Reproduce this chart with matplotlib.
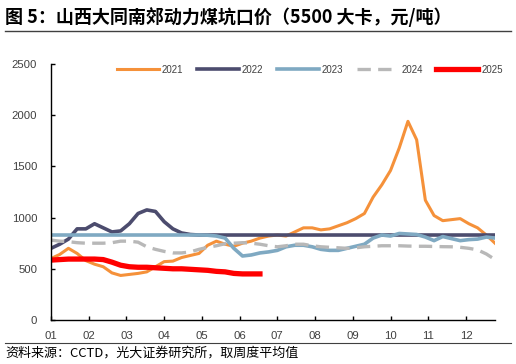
import numpy as np
import matplotlib
matplotlib.use("Agg")
import matplotlib.pyplot as plt
from matplotlib.lines import Line2D

plt.rcParams['font.family'] = ['Noto Sans CJK SC', 'DejaVu Sans']

months = ["01", "02", "03", "04", "05", "06", "07", "08", "09", "10", "11", "12"]

# weekly prices (元/吨)
y2021 = [600, 640, 700, 650, 580, 545, 520, 460, 435, 445, 455, 470, 520, 570, 575, 610,
         630, 650, 730, 770, 740, 720, 750, 770, 800, 820, 830, 820, 860, 900, 900, 880,
         890, 920, 950, 990, 1040, 1200, 1320, 1460, 1680, 1940, 1760, 1170, 1020, 970,
         980, 990, 940, 900, 830, 750]
y2022 = [700, 740, 790, 890, 890, 940, 900, 860, 870, 940, 1040, 1075, 1060, 960, 890, 850,
         835, 830, 830, 830, 830, 830, 830, 830, 830, 830, 830, 830, 830, 830, 830, 830,
         830, 830, 830, 830, 830, 830, 830, 830, 830, 830, 830, 830, 830, 830, 830, 830,
         830, 830, 830, 830]
y2023 = [830, 830, 830, 830, 830, 830, 830, 830, 830, 830, 830, 830, 830, 830, 830, 830,
         830, 830, 828, 820, 800, 700, 625, 635, 655, 665, 680, 715, 730, 730, 715, 690,
         680, 680, 700, 720, 740, 800, 830, 820, 845, 840, 835, 810, 775, 815, 795, 775,
         785, 790, 810, 800]
y2024 = [780, 770, 765, 755, 750, 750, 750, 755, 770, 770, 760, 715, 690, 670, 655, 655,
         665, 690, 710, 725, 745, 750, 755, 750, 740, 725, 715, 725, 740, 740, 725, 715,
         710, 705, 700, 705, 715, 720, 725, 725, 725, 722, 720, 720, 718, 716, 715, 710,
         700, 685, 645, 590]
y2025 = [585, 590, 595, 595, 595, 595, 590, 565, 535, 520, 515, 515, 510, 505, 500, 500,
         495, 490, 485, 475, 470, 455, 450, 450, 450]

fig = plt.figure(figsize=(5.16, 3.64), dpi=100)
ax = fig.add_axes([51/516, 1-320/364, 444/516, 256/364])

wk = np.arange(52)
ax.plot(wk, y2021, color='#F5913A', lw=2.2, label='2021')
ax.plot(wk, y2022, color='#4C4C6E', lw=2.6, label='2022')
ax.plot(wk, y2023, color='#7FA9C2', lw=2.6, label='2023')
ax.plot(wk, y2024, color='#B8B8B8', lw=2.4, ls=(0, (4, 2.2)), label='2024')
ax.plot(np.arange(len(y2025)), y2025, color='#FF0000', lw=3.8, label='2025')

ax.set_xlim(0, 51)
ax.set_ylim(0, 2500)
ax.set_yticks([0, 500, 1000, 1500, 2000, 2500])
ax.set_xticks(np.arange(12) * 52 / 12)
ax.set_xticklabels(months)
ax.tick_params(axis='both', direction='in', length=3, width=1, labelsize=8.2,
               labelcolor='#404040', color='black')
ax.tick_params(axis='x', pad=8)
ax.tick_params(axis='y', pad=10)
for lab in ax.get_xticklabels() + ax.get_yticklabels():
    lab.set_family('Liberation Sans')
for s in ['top', 'right']:
    ax.spines[s].set_visible(False)
for s in ['left', 'bottom']:
    ax.spines[s].set_color('black')
    ax.spines[s].set_linewidth(1)

leg = ax.legend(loc='center', bbox_to_anchor=(0.583, 0.977), ncol=5, frameon=False,
                prop={'family': 'Liberation Sans', 'size': 7}, handlelength=4.3,
                columnspacing=1.4, handletextpad=0.3, labelcolor='#404040')

fig.text(5/516, 1-17/364, '图 5：山西大同南郊动力煤坑口价（5500 大卡，元/吨）',
         fontsize=13, fontweight='bold', va='center', ha='left', color='black')
fig.add_artist(Line2D([5/516, 511/516], [1-31/364, 1-31/364], color='#404040', lw=1))
fig.add_artist(Line2D([5/516, 511/516], [1-343/364, 1-343/364], color='#404040', lw=0.8))
fig.text(5/516, 1-353/364, '资料来源：CCTD，光大证券研究所，取周度平均值',
         fontsize=9.4, va='center', ha='left', color='black')

fig.savefig('out.png', dpi=100)
